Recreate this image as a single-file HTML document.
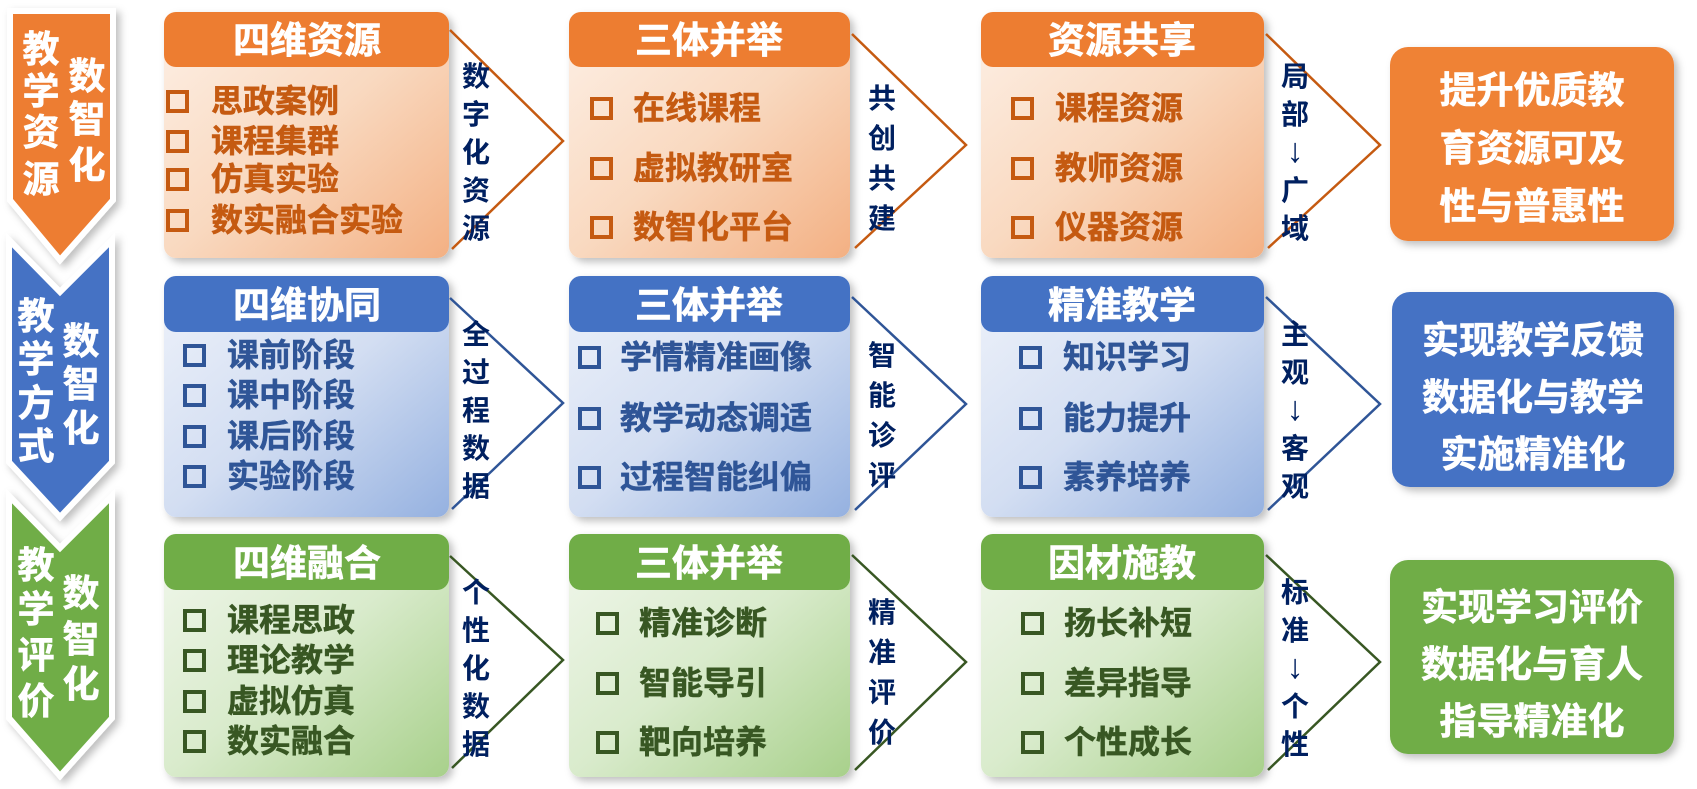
<!DOCTYPE html>
<html><head><meta charset="utf-8"><style>
html,body{margin:0;padding:0;background:#fff;}
svg{display:block;font-family:"Liberation Sans","Noto Sans CJK SC",sans-serif;font-weight:bold;}
</style></head><body>
<svg width="1697" height="789" viewBox="0 0 1697 789" xmlns="http://www.w3.org/2000/svg">
<defs>
<filter id="sh" x="-10%" y="-10%" width="130%" height="130%"><feDropShadow dx="4" dy="4" stdDeviation="4" flood-color="#000" flood-opacity="0.25"/></filter>
<linearGradient id="go" x1="0" y1="0" x2="1" y2="1"><stop offset="0" stop-color="#fdf0e6"/><stop offset="0.5" stop-color="#f9d9c0"/><stop offset="1" stop-color="#f3b083"/></linearGradient>
<linearGradient id="gb" x1="0" y1="0" x2="1" y2="1"><stop offset="0" stop-color="#eef2fa"/><stop offset="0.5" stop-color="#d3def2"/><stop offset="1" stop-color="#95b1e0"/></linearGradient>
<linearGradient id="gg" x1="0" y1="0" x2="1" y2="1"><stop offset="0" stop-color="#f1f7ec"/><stop offset="0.5" stop-color="#d9ebcc"/><stop offset="1" stop-color="#a8d08b"/></linearGradient>
</defs>

<!-- left banners -->
<g filter="url(#sh)">
<polygon points="9,496 60,548 112,496 112,718 60,776 9,718" fill="#70ad47" stroke="#fff" stroke-width="6"/>
<polygon points="9,240 60,292 112,240 112,462 60,517 9,462" fill="#4472c4" stroke="#fff" stroke-width="6"/>
<polygon points="10,11 113,11 113,200 60,260 10,200" fill="#ed7d31" stroke="#fff" stroke-width="6"/>
</g>
<g fill="#fff" font-size="37" text-anchor="middle" stroke="#fff" stroke-width="0.6">
<text x="41" y="62">教</text><text x="41" y="104">学</text><text x="41" y="145">资</text><text x="41" y="192">源</text>
<text x="87" y="89">数</text><text x="87" y="132">智</text><text x="87" y="178">化</text>
<text x="36" y="329">教</text><text x="36" y="372">学</text><text x="36" y="416">方</text><text x="36" y="459">式</text>
<text x="81" y="354">数</text><text x="81" y="397">智</text><text x="81" y="441">化</text>
<text x="36" y="578">教</text><text x="36" y="622">学</text><text x="36" y="668">评</text><text x="36" y="714">价</text>
<text x="81" y="606">数</text><text x="81" y="652">智</text><text x="81" y="697">化</text>
</g>

<!-- boxes -->
<g filter="url(#sh)">
<rect x="164" y="12" width="285" height="246" rx="12" fill="url(#go)"/>
<rect x="569" y="12" width="281" height="246" rx="12" fill="url(#go)"/>
<rect x="981" y="12" width="283" height="246" rx="12" fill="url(#go)"/>
<rect x="164" y="276" width="285" height="241" rx="12" fill="url(#gb)"/>
<rect x="569" y="276" width="281" height="241" rx="12" fill="url(#gb)"/>
<rect x="981" y="276" width="283" height="241" rx="12" fill="url(#gb)"/>
<rect x="164" y="534" width="285" height="243" rx="12" fill="url(#gg)"/>
<rect x="569" y="534" width="281" height="243" rx="12" fill="url(#gg)"/>
<rect x="981" y="534" width="283" height="243" rx="12" fill="url(#gg)"/>
<rect x="1390" y="47" width="284" height="194" rx="18" fill="#ef8235"/>
<rect x="1392" y="292" width="282" height="195" rx="18" fill="#4472c4"/>
<rect x="1390" y="560" width="284" height="194" rx="18" fill="#70ad47"/>
</g>
<g>
<rect x="164" y="12" width="285" height="55" rx="12" fill="#ed7d31"/>
<rect x="569" y="12" width="281" height="55" rx="12" fill="#ed7d31"/>
<rect x="981" y="12" width="283" height="55" rx="12" fill="#ed7d31"/>
<rect x="164" y="276" width="285" height="56" rx="12" fill="#4472c4"/>
<rect x="569" y="276" width="281" height="56" rx="12" fill="#4472c4"/>
<rect x="981" y="276" width="283" height="56" rx="12" fill="#4472c4"/>
<rect x="164" y="534" width="285" height="56" rx="12" fill="#70ad47"/>
<rect x="569" y="534" width="281" height="56" rx="12" fill="#70ad47"/>
<rect x="981" y="534" width="283" height="56" rx="12" fill="#70ad47"/>
</g>
<g fill="#fff" font-size="37" text-anchor="middle" stroke="#fff" stroke-width="0.6">
<text x="307" y="53">四维资源</text><text x="709" y="53">三体并举</text><text x="1122" y="53">资源共享</text>
<text x="307" y="318">四维协同</text><text x="709" y="318">三体并举</text><text x="1122" y="318">精准教学</text>
<text x="307" y="576">四维融合</text><text x="709" y="576">三体并举</text><text x="1122" y="576">因材施教</text>
</g>

<!-- chevrons -->
<g fill="none" stroke-width="2.5">
<polyline points="450,30 563,141 452,249" stroke="#c55a11"/>
<polyline points="852,34 966,145 855,248" stroke="#c55a11"/>
<polyline points="1266,34 1380,145 1268,248" stroke="#c55a11"/>
<polyline points="450,298 563,403 452,509" stroke="#2f5597"/>
<polyline points="852,297 966,404 855,510" stroke="#2f5597"/>
<polyline points="1266,297 1380,404 1268,510" stroke="#2f5597"/>
<polyline points="450,556 563,660 452,768" stroke="#385723"/>
<polyline points="852,555 966,662 855,770" stroke="#385723"/>
<polyline points="1266,555 1380,662 1268,770" stroke="#385723"/>
</g>
<g fill="#002060" font-size="28" text-anchor="middle">
<text x="476" y="86">数</text><text x="476" y="124">字</text><text x="476" y="162">化</text><text x="476" y="200">资</text><text x="476" y="238">源</text>
<text x="882" y="108">共</text><text x="882" y="148">创</text><text x="882" y="188">共</text><text x="882" y="228">建</text>
<text x="1295" y="86">局</text><text x="1295" y="124">部</text><text x="1295" y="162" font-size="34" font-weight="normal">↓</text><text x="1295" y="200">广</text><text x="1295" y="238">域</text>
<text x="476" y="344">全</text><text x="476" y="382">过</text><text x="476" y="420">程</text><text x="476" y="458">数</text><text x="476" y="496">据</text>
<text x="882" y="365">智</text><text x="882" y="405">能</text><text x="882" y="445">诊</text><text x="882" y="485">评</text>
<text x="1295" y="344">主</text><text x="1295" y="382">观</text><text x="1295" y="420" font-size="34" font-weight="normal">↓</text><text x="1295" y="458">客</text><text x="1295" y="496">观</text>
<text x="476" y="602">个</text><text x="476" y="640">性</text><text x="476" y="678">化</text><text x="476" y="716">数</text><text x="476" y="754">据</text>
<text x="882" y="622">精</text><text x="882" y="662">准</text><text x="882" y="702">评</text><text x="882" y="742">价</text>
<text x="1295" y="602">标</text><text x="1295" y="640">准</text><text x="1295" y="678" font-size="34" font-weight="normal">↓</text><text x="1295" y="716">个</text><text x="1295" y="754">性</text>
</g>

<!-- items -->
<g font-size="32">
<g fill="#c55a11" stroke="#c55a11" stroke-width="0.5">
<text x="211" y="112">思政案例</text><text x="211" y="152">课程集群</text><text x="211" y="190">仿真实验</text><text x="211" y="231">数实融合实验</text>
<text x="633" y="119">在线课程</text><text x="633" y="179">虚拟教研室</text><text x="633" y="238">数智化平台</text>
<text x="1055" y="119">课程资源</text><text x="1055" y="179">教师资源</text><text x="1055" y="238">仪器资源</text>
</g>
<g fill="#2f5597" stroke="#2f5597" stroke-width="0.5">
<text x="227" y="366">课前阶段</text><text x="227" y="406">课中阶段</text><text x="227" y="447">课后阶段</text><text x="227" y="487">实验阶段</text>
<text x="620" y="368">学情精准画像</text><text x="620" y="429">教学动态调适</text><text x="620" y="488">过程智能纠偏</text>
<text x="1063" y="368">知识学习</text><text x="1063" y="429">能力提升</text><text x="1063" y="488">素养培养</text>
</g>
<g fill="#385723" stroke="#385723" stroke-width="0.5">
<text x="227" y="631">课程思政</text><text x="227" y="671">理论教学</text><text x="227" y="712">虚拟仿真</text><text x="227" y="752">数实融合</text>
<text x="639" y="634">精准诊断</text><text x="639" y="694">智能导引</text><text x="639" y="753">靶向培养</text>
<text x="1064" y="634">扬长补短</text><text x="1064" y="694">差异指导</text><text x="1064" y="753">个性成长</text>
</g>
</g>
<g fill="none" stroke-width="4">
<g stroke="#c55a11">
<rect x="168" y="92" width="19" height="19"/><rect x="168" y="132" width="19" height="19"/><rect x="168" y="170" width="19" height="19"/><rect x="168" y="211" width="19" height="19"/>
<rect x="592" y="99" width="19" height="19"/><rect x="592" y="159" width="19" height="19"/><rect x="592" y="218" width="19" height="19"/>
<rect x="1013" y="99" width="19" height="19"/><rect x="1013" y="159" width="19" height="19"/><rect x="1013" y="218" width="19" height="19"/>
</g>
<g stroke="#2f5597">
<rect x="185" y="346" width="19" height="19"/><rect x="185" y="386" width="19" height="19"/><rect x="185" y="427" width="19" height="19"/><rect x="185" y="467" width="19" height="19"/>
<rect x="580" y="348" width="19" height="19"/><rect x="580" y="409" width="19" height="19"/><rect x="580" y="468" width="19" height="19"/>
<rect x="1021" y="348" width="19" height="19"/><rect x="1021" y="409" width="19" height="19"/><rect x="1021" y="468" width="19" height="19"/>
</g>
<g stroke="#385723">
<rect x="185" y="611" width="19" height="19"/><rect x="185" y="651" width="19" height="19"/><rect x="185" y="692" width="19" height="19"/><rect x="185" y="732" width="19" height="19"/>
<rect x="598" y="614" width="19" height="19"/><rect x="598" y="674" width="19" height="19"/><rect x="598" y="733" width="19" height="19"/>
<rect x="1023" y="614" width="19" height="19"/><rect x="1023" y="674" width="19" height="19"/><rect x="1023" y="733" width="19" height="19"/>
</g>
</g>

<!-- outcome text -->
<g fill="#fff" font-size="37" text-anchor="middle" stroke="#fff" stroke-width="0.6">
<text x="1532" y="103">提升优质教</text><text x="1532" y="161">育资源可及</text><text x="1532" y="219">性与普惠性</text>
<text x="1533" y="353">实现教学反馈</text><text x="1533" y="410">数据化与教学</text><text x="1533" y="467">实施精准化</text>
<text x="1532" y="620">实现学习评价</text><text x="1532" y="677">数据化与育人</text><text x="1532" y="734">指导精准化</text>
</g>
</svg>
</body></html>
